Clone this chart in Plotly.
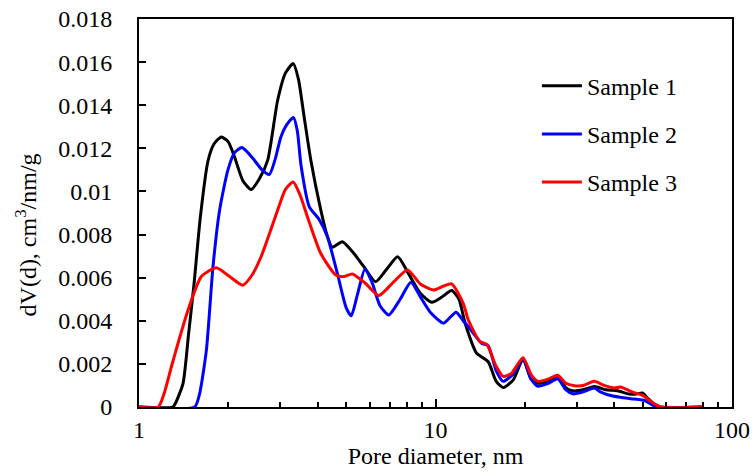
import plotly.graph_objects as go

# Sample 1 (black)
d1 = [1.0, 1.30, 1.33, 1.408, 1.47, 1.533, 1.61, 1.708, 1.79, 1.894, 2.0, 2.10, 2.24, 2.388, 2.55,
      2.717, 2.935, 3.12, 3.313, 3.45, 3.606, 3.798, 4.104, 4.3, 4.487, 4.85, 5.25, 5.734, 6.28, 6.85,
      7.456, 8.1, 8.885, 9.72, 10.5, 11.34, 12.0, 12.58, 13.76, 15.06, 16.0, 16.91, 18.3, 19.74, 21.0,
      22.16, 24.0, 25.87, 27.5, 29.05, 31.5, 34.35, 37.5, 41.1, 45.0, 47.5, 49.9, 52.0, 55.0, 57.5, 80.0]
v1 = [0, 0, 0.0002, 0.0011, 0.0034, 0.0057, 0.0088, 0.0114, 0.0122, 0.01253, 0.0123, 0.0116, 0.0105,
      0.01009, 0.0106, 0.01145, 0.01423, 0.0155, 0.01593, 0.0152, 0.01345, 0.01145, 0.00913, 0.0080,
      0.00741, 0.00767, 0.0072, 0.00651, 0.00581, 0.0064, 0.00697, 0.0062, 0.00528, 0.00486, 0.0051,
      0.0054, 0.0050, 0.0039, 0.0025, 0.0021, 0.0012, 0.0009, 0.00126, 0.00222, 0.0013, 0.0011, 0.0012,
      0.00142, 0.0009, 0.00075, 0.0008, 0.00095, 0.0008, 0.00075, 0.0006, 0.0006, 0.00065, 0.0004,
      0.0001, 0, 0]

# Sample 2 (blue)
d2 = [1.0, 1.54, 1.60, 1.688, 1.776, 1.870, 1.994, 2.1, 2.222, 2.33, 2.449, 2.6, 2.752, 2.88, 3.01,
      3.15, 3.32, 3.42, 3.52, 3.75, 4.05, 4.32, 4.666, 5.0, 5.198, 5.45, 5.78, 6.1, 6.5, 6.956, 7.6,
      8.26, 8.9, 9.6, 10.64, 11.73, 12.4, 12.9, 14.3, 15.06, 16.0, 16.91, 18.2, 19.74, 21.0, 22.16,
      24.0, 25.87, 27.5, 29.05, 31.5, 34.35, 36.0, 38.07, 42.0, 46.8, 50.7, 53.5, 56.0, 80.0]
v2 = [0, 0, 0.0006, 0.00265, 0.0065, 0.00913, 0.01099, 0.0118, 0.01204, 0.0118, 0.01145, 0.0110,
      0.01079, 0.0115, 0.01253, 0.0131, 0.01343, 0.0128, 0.0112, 0.0093, 0.0087, 0.0079, 0.0062,
      0.0046, 0.00423, 0.0052, 0.00639, 0.0058, 0.0047, 0.00427, 0.0050, 0.00579, 0.0051, 0.0044,
      0.00389, 0.00440, 0.0040, 0.00373, 0.00296, 0.00284, 0.0017, 0.00119, 0.0015, 0.00222, 0.0013,
      0.00096, 0.0011, 0.00131, 0.0008, 0.00061, 0.0007, 0.00088, 0.0007, 0.00057, 0.00045, 0.00037,
      0.0003, 0.00012, 0, 0]

# Sample 3 (red)
d3 = [1.0, 1.161, 1.22, 1.287, 1.37, 1.464, 1.623, 1.822, 2.0, 2.239, 2.4, 2.58, 2.935, 3.12, 3.313,
      3.5, 3.70, 4.10, 4.61, 4.91, 5.24, 5.80, 6.44, 7.23, 8.05, 8.885, 9.85, 10.6, 11.34, 12.4, 12.9,
      14.1, 14.9, 16.0, 16.91, 18.0, 19.74, 21.0, 22.16, 24.0, 25.87, 27.5, 29.4, 31.5, 34.35, 37.0,
      40.1, 42.1, 46.0, 49.9, 54.0, 57.5, 79.3]
v3 = [0, 0, 0.0007, 0.00188, 0.0032, 0.0045, 0.00605, 0.00646, 0.0061, 0.00565, 0.0061, 0.00697,
      0.00913, 0.0101, 0.01044, 0.0098, 0.00882, 0.00713, 0.00612, 0.00605, 0.00617, 0.00574, 0.00517,
      0.00581, 0.00636, 0.00571, 0.00543, 0.0056, 0.00571, 0.00481, 0.00404, 0.00304, 0.0029, 0.0019,
      0.00142, 0.00155, 0.00229, 0.0015, 0.00119, 0.0013, 0.00147, 0.0011, 0.00099, 0.0010, 0.00119,
      0.0010, 0.00088, 0.00093, 0.0007, 0.00054, 0.0002, 0, 0]

names = ["Sample 1", "Sample 2", "Sample 3"]
colors = ["#000000", "#0000FF", "#FF0000"]

y_tickvals = [0, 0.002, 0.004, 0.006, 0.008, 0.01, 0.012, 0.014, 0.016, 0.018]
y_ticktext = ["0", "0.002", "0.004", "0.006", "0.008", "0.01", "0.012", "0.014", "0.016", "0.018"]
x_tickvals = [1, 10, 100]
x_ticktext = ["1", "10", "100"]
x_minor = [2, 3, 4, 5, 6, 7, 8, 9, 20, 30, 40, 50, 60, 70, 80, 90]

FONT = "Liberation Serif"
TF = dict(family=FONT, size=24, color="black")

fig = go.Figure()
for d, v, n, c in zip([d1, d2, d3], [v1, v2, v3], names, colors):
    fig.add_trace(go.Scatter(x=d, y=v, mode="lines", name=n, legendgroup=n,
                             line=dict(color=c, width=3, shape="spline", smoothing=0.6)))

fig.add_annotation(text="dV(d), cm<sup>3</sup>/nm/g", xref="paper", yref="paper",
                   x=-0.19, y=0.443, xanchor="center", yanchor="middle",
                   textangle=-90, showarrow=False, font=TF)

fig.update_layout(
    width=755, height=476,
    margin=dict(l=139, r=23, t=19, b=69, autoexpand=False),
    paper_bgcolor="white", plot_bgcolor="white",
    font=TF,
    showlegend=True,
    legend=dict(x=0.671, xanchor="left", y=0.885, yanchor="top",
                font=TF,
                bgcolor="rgba(0,0,0,0)", tracegroupgap=14, traceorder="grouped",
                itemwidth=40),
    xaxis=dict(type="log", range=[0, 2], tickmode="array", tickvals=x_tickvals, ticktext=x_ticktext,
               tickfont=TF,
               ticks="inside", ticklen=8, tickwidth=2, tickcolor="black", automargin=False,
               minor=dict(tickmode="array", tickvals=x_minor, ticks="inside", ticklen=5,
                          tickwidth=1.5, tickcolor="black", showgrid=False),
               showline=True, linecolor="black", linewidth=2, mirror=True,
               showgrid=False, zeroline=False,
               ticklabelstandoff=0,
               title=dict(text="Pore diameter, nm", standoff=2, font=TF)),
    yaxis=dict(range=[0, 0.018], tickmode="array", tickvals=y_tickvals, ticktext=y_ticktext,
               tickfont=TF,
               ticks="inside", ticklen=7, tickwidth=2, tickcolor="black", automargin=False,
               showline=True, linecolor="black", linewidth=2, mirror=True,
               showgrid=False, zeroline=False, ticklabelstandoff=20),
)

fig.write_html("out.html")
